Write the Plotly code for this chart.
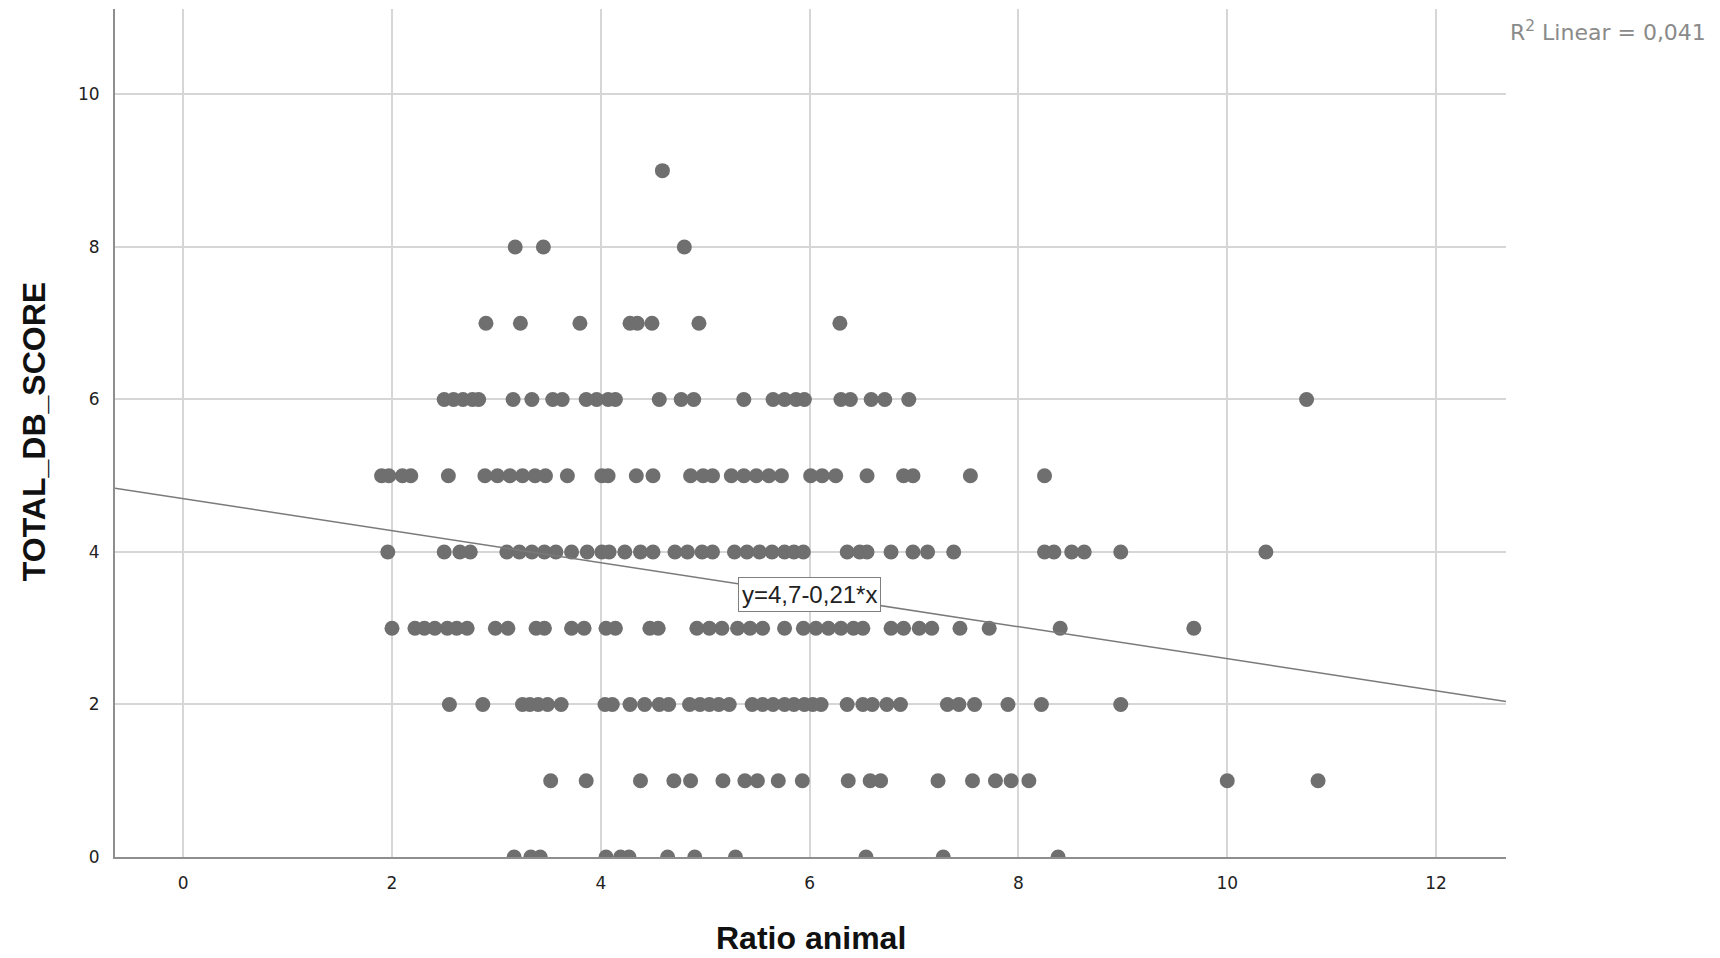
import numpy as np
import plotly.graph_objects as go

# Ratio animal values observed at each TOTAL_DB_SCORE level
score_0 = [3.17, 3.33, 3.42, 4.05, 4.19, 4.27, 4.64, 4.90, 5.29, 6.54, 7.28, 8.38]
score_1 = [3.52, 3.86, 4.38, 4.70, 4.86, 5.17, 5.38, 5.50, 5.70, 5.93, 6.37, 6.58,
           6.68, 7.23, 7.56, 7.78, 7.93, 8.10, 10.00, 10.87]
score_2 = [2.55, 2.87, 3.25, 3.32, 3.40, 3.49, 3.62, 4.04, 4.11, 4.28, 4.42, 4.56,
           4.65, 4.85, 4.95, 5.04, 5.13, 5.23, 5.45, 5.55, 5.65, 5.76, 5.85, 5.95,
           6.03, 6.11, 6.36, 6.51, 6.60, 6.74, 6.87, 7.32, 7.43, 7.58, 7.90, 8.22, 8.98]
score_3 = [2.00, 2.22, 2.31, 2.41, 2.53, 2.62, 2.72, 2.99, 3.11, 3.38, 3.46, 3.72,
           3.84, 4.05, 4.14, 4.47, 4.55, 4.92, 5.04, 5.16, 5.31, 5.43, 5.55, 5.76,
           5.94, 6.06, 6.18, 6.30, 6.42, 6.51, 6.78, 6.90, 7.05, 7.17, 7.44, 7.72,
           8.40, 9.68]
score_4 = [1.96, 2.50, 2.65, 2.75, 3.10, 3.22, 3.34, 3.46, 3.57, 3.72, 3.87, 4.01,
           4.08, 4.23, 4.38, 4.50, 4.71, 4.83, 4.97, 5.07, 5.28, 5.40, 5.52, 5.64,
           5.76, 5.85, 5.94, 6.36, 6.48, 6.55, 6.78, 6.99, 7.13, 7.38, 8.25, 8.34,
           8.51, 8.63, 8.98, 10.37]
score_5 = [1.90, 1.97, 2.10, 2.18, 2.54, 2.89, 3.01, 3.13, 3.25, 3.37, 3.47, 3.68,
           4.01, 4.07, 4.34, 4.50, 4.86, 4.98, 5.07, 5.25, 5.37, 5.49, 5.61, 5.73,
           6.01, 6.12, 6.25, 6.55, 6.90, 6.99, 7.54, 8.25]
score_6 = [2.50, 2.59, 2.68, 2.77, 2.83, 3.16, 3.34, 3.54, 3.63, 3.86, 3.96, 4.07,
           4.14, 4.56, 4.77, 4.89, 5.37, 5.65, 5.76, 5.87, 5.95, 6.30, 6.39, 6.59,
           6.72, 6.95, 10.76]
score_7 = [2.90, 3.23, 3.80, 4.28, 4.35, 4.49, 4.94, 6.29]
score_8 = [3.18, 3.45, 4.80]
score_9 = [4.59]

score_groups = [score_0, score_1, score_2, score_3, score_4,
                score_5, score_6, score_7, score_8, score_9]

# Linear fit reported on the chart
fit_intercept = 4.7
fit_slope = -0.21
r2_linear = "0,041"

x_ticks = [0, 2, 4, 6, 8, 10, 12]
y_ticks = [0, 2, 4, 6, 8, 10]
x_range = [-0.653, 12.67]
y_range = [0, 11.12]

ratio = []
score = []
for level, values in enumerate(score_groups):
    ratio.extend(values)
    score.extend([level] * len(values))

font_family = "Liberation Sans, Arial, sans-serif"
wide_family = "DejaVu Sans, Liberation Sans, sans-serif"
grid_col = "#d6d6d6"
axis_col = "#8e8e8e"

fig = go.Figure()

fig.add_trace(go.Scatter(
    x=ratio, y=score, mode="markers",
    marker=dict(size=15, color="#6f6f6f", line=dict(width=0)),
    hoverinfo="x+y", showlegend=False,
))

fit_x = np.array(x_range)
fit_y = fit_intercept + fit_slope * fit_x
fig.add_trace(go.Scatter(
    x=fit_x, y=fit_y, mode="lines",
    line=dict(color="#7a7a7a", width=1.5),
    hoverinfo="skip", showlegend=False,
))

label_x = 6.0
fig.add_annotation(
    x=label_x, y=fit_intercept + fit_slope * label_x,
    xref="x", yref="y",
    text="y=4,7-0,21*x", showarrow=False,
    font=dict(family=font_family, size=24, color="#222222"),
    bgcolor="white", bordercolor="#7f7f7f", borderwidth=1, borderpad=3,
)

fig.add_annotation(
    x=1.0015, y=0.974, xref="paper", yref="paper",
    xanchor="left", yanchor="middle",
    text=f"R<sup>2</sup> Linear = {r2_linear}", showarrow=False,
    font=dict(family=wide_family, size=22, color="#8a8a8a"),
)

fig.add_annotation(
    x=0.5, y=-0.0955, xref="paper", yref="paper",
    xanchor="center", yanchor="middle",
    text="<b>Ratio animal</b>", showarrow=False,
    font=dict(family=font_family, size=32, color="#111111"),
)

fig.add_annotation(
    x=-0.0582, y=0.501, xref="paper", yref="paper",
    xanchor="center", yanchor="middle", textangle=-90,
    text="<b>TOTAL_DB_SCORE</b>", showarrow=False,
    font=dict(family=font_family, size=32, color="#111111"),
)

axis_common = dict(
    showgrid=True, gridcolor=grid_col, gridwidth=2,
    zeroline=False, showline=True, linecolor=axis_col, linewidth=2,
    ticks="outside", ticklen=10, tickcolor="rgba(0,0,0,0)",
    tickfont=dict(family=wide_family, size=17, color="#222222"),
)

fig.update_xaxes(range=x_range, tickvals=x_ticks, **axis_common)
fig.update_yaxes(range=y_range, tickvals=y_ticks, **axis_common)

fig.update_layout(
    width=1720, height=958,
    margin=dict(l=115, r=214, t=9, b=101),
    paper_bgcolor="white", plot_bgcolor="white",
    font=dict(family=font_family),
)

fig.write_html("out.html")
